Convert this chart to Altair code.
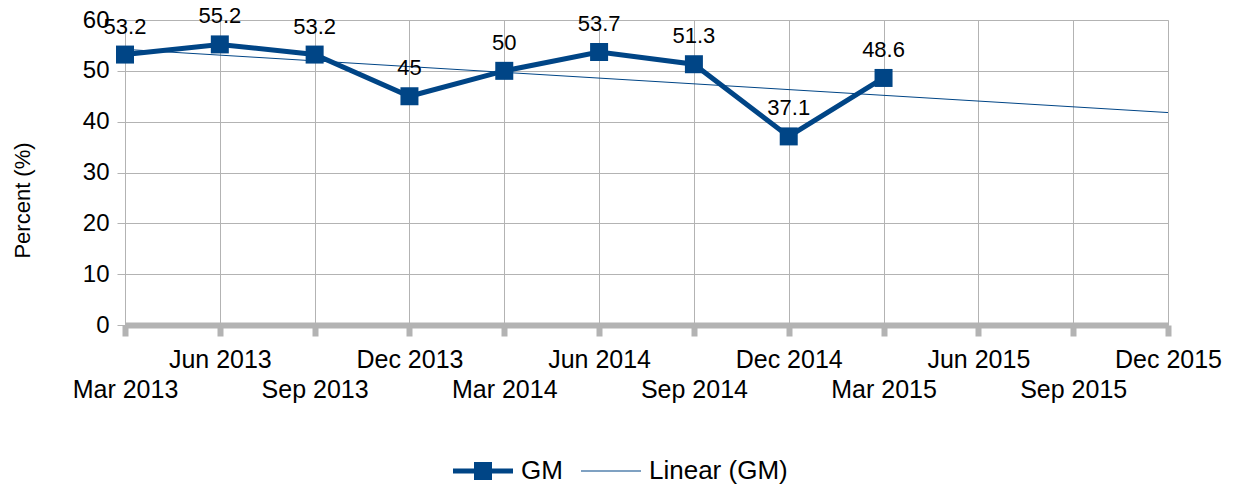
import json
import altair as alt
import pandas as pd

categories = ["Mar 2013", "Jun 2013", "Sep 2013", "Dec 2013", "Mar 2014", "Jun 2014",
              "Sep 2014", "Dec 2014", "Mar 2015", "Jun 2015", "Sep 2015", "Dec 2015"]
gm_values = [53.2, 55.2, 53.2, 45, 50, 53.7, 51.3, 37.1, 48.6]
gm_labels = ["53.2", "55.2", "53.2", "45", "50", "53.7", "51.3", "37.1", "48.6"]
series_names = ["GM", "Linear (GM)"]

BLUE = "#004586"
GRID = "#b3b3b3"
FONT = "Liberation Sans"

df = pd.DataFrame({
    "idx": list(range(len(gm_values))),
    "gm": gm_values,
    "lbl": gm_labels,
})
legend_df = pd.DataFrame({"series": series_names})

cats_js = json.dumps(categories)
label_expr = (f"datum.value % 2 == 0 ? ['', {cats_js}[datum.value]] : {cats_js}[datum.value]")

x_enc = alt.X(
    "idx:Q",
    scale=alt.Scale(domain=[0, len(categories) - 1], nice=False, zero=False),
    axis=alt.Axis(
        title=None, values=list(range(len(categories))), labelExpr=label_expr,
        grid=True, gridColor=GRID, gridWidth=1,
        domainColor=GRID, domainWidth=6, tickColor=GRID, tickWidth=6, tickSize=11,
        labelBaseline="top", labelLineHeight=30, labelPadding=11, labelFontSize=25,
        labelFont=FONT, labelColor="#000000", labelOverlap=False, labelFlush=False,
        labelBound=False,
    ),
)
y_enc = alt.Y(
    "gm:Q",
    scale=alt.Scale(domain=[0, 60], nice=False),
    axis=alt.Axis(
        title="Percent (%)", values=[0, 10, 20, 30, 40, 50, 60],
        grid=True, gridColor=GRID, gridWidth=1, domain=False,
        tickColor=GRID, tickSize=8, tickWidth=1, labelPadding=8,
        labelFontSize=24, labelFont=FONT, labelColor="#000000",
        titleFont=FONT, titleFontSize=22, titleFontWeight="normal", titleColor="#000000",
        titleX=-103, titleY=180, titleAngle=-90, titleAlign="center", titleBaseline="middle",
    ),
)

base = alt.Chart(df)

trend = base.transform_regression(
    "idx", "gm", method="linear", extent=[0, len(categories) - 1]
).mark_line(color=BLUE, strokeWidth=1).encode(x=x_enc, y=y_enc)

line = base.mark_line(color=BLUE, strokeWidth=5).encode(x=x_enc, y=y_enc)
points = base.mark_square(color=BLUE, size=324, opacity=1).encode(x=x_enc, y=y_enc)
texts = base.mark_text(
    dy=-21, baseline="alphabetic", align="center", fontSize=22, font=FONT, color="#000000"
).encode(x=x_enc, y=y_enc, text="lbl:N")

path_gm = "M-1,-0.08H1V0.08H-1Z M-0.3,-0.3H0.3V0.3H-0.3Z"
path_lin = "M-1,-0.017H1V0.017H-1Z"

legend_layer = alt.Chart(legend_df).transform_filter("false").mark_point(
    filled=True, opacity=1
).encode(
    color=alt.Color("series:N", scale=alt.Scale(domain=series_names, range=[BLUE, BLUE]),
                    legend=alt.Legend(
                        orient="none", legendX=328, legendY=421, direction="horizontal",
                        title=None, symbolSize=3600, symbolStrokeWidth=0,
                        labelFontSize=26, labelFont=FONT, labelColor="#000000",
                        labelOffset=8, columnPadding=18, padding=0,
                    )),
    shape=alt.Shape("series:N", scale=alt.Scale(domain=series_names, range=[path_gm, path_lin]),
                    legend=None),
)

chart = alt.layer(trend, line, points, texts, legend_layer).resolve_legend(
    shape="shared", color="shared"
).properties(
    width=1043, height=305,
    autosize=alt.AutoSizeParams(type="none"),
    padding={"left": 117, "top": 12, "right": 63, "bottom": 160},
).configure_view(stroke=None).configure(background="#ffffff")

chart.save("out.html", embed_options={"renderer": "svg", "actions": False})
